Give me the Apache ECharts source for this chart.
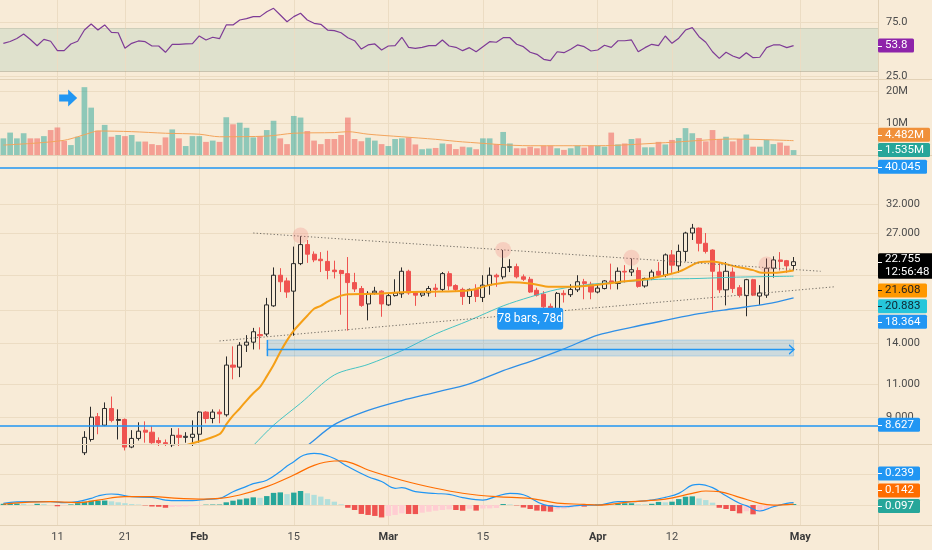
<!DOCTYPE html>
<html>
<head>
<meta charset="utf-8">
<script src="https://cdn.jsdelivr.net/npm/echarts@6.0.0/dist/echarts.min.js"></script>
<style>
html,body{margin:0;padding:0;background:#f8ebd7;overflow:hidden}
#chart{width:932px;height:550px}
</style>
</head>
<body>
<div id="chart"></div>
<script>
// ---------------- data ----------------
const monthLengths = [31, 28, 31, 30, 31];
const firstDay = 3;            // Jan 3
const numDays = 130;           // through May 12 (right margin)

const xTickDates  = ['01-11','01-21','02-01','02-15','03-01','03-15','04-01','04-12','05-01'];
const xTickLabels = ['11','21','Feb','15','Mar','15','Apr','12','May'];

const open = [
 7.0,7.2,7.3,7.45,7.5,7.25,7.0,7.2,7.1,6.9,
 6.85,7.1,7.3,7.9,9.05,8.6,9.5,8.85,8.9,7.55,
 7.95,8.35,8.25,7.85,7.75,7.65,8.1,8.0,8.0,8.15,
 9.3,8.95,9.3,9.15,12.3,12.15,13.85,14.1,14.75,14.8,
 17.5,21.0,20.3,19.1,22.5,25.2,23.8,23.1,22.8,21.65,
 21.6,21.2,20.1,19.4,17.7,18.9,19.1,17.6,18.6,18.8,
 21.5,18.9,18.65,18.9,19.45,19.3,21.2,19.75,19.3,18.5,
 19.3,18.4,19.8,21.0,20.8,22.0,22.1,20.8,20.5,19.2,
 18.75,17.45,17.05,18.85,18.7,19.25,20.2,19.9,19.0,19.4,
 20.3,20.0,21.5,21.4,21.6,19.7,20.6,21.5,21.0,23.7,
 22.2,24.2,27.0,27.8,25.4,24.4,21.4,19.25,21.4,19.5,
 18.6,20.45,18.55,18.65,21.9,23.0,22.9,22.25];
const close = [
 7.2,7.3,7.45,7.5,7.25,7.0,7.2,7.1,6.9,6.85,
 7.1,7.25,8.0,9.02,8.6,9.5,8.85,8.9,7.55,7.95,
 8.3,8.25,7.75,7.75,7.7,8.1,8.0,8.05,8.15,9.3,
 8.95,9.3,9.2,12.3,12.15,13.85,14.1,15.0,14.65,17.6,
 21.0,20.2,19.0,22.5,25.2,23.8,23.0,22.9,21.6,21.45,
 21.2,20.1,19.35,17.55,18.85,19.1,17.7,18.6,18.9,21.5,
 18.9,18.65,18.9,19.4,19.3,21.2,19.7,19.3,18.5,19.3,
 18.5,19.8,21.0,20.8,22.0,22.1,20.8,20.5,19.0,18.65,
 17.4,17.1,18.85,18.7,19.3,20.2,20.0,19.0,19.45,20.3,
 20.1,21.5,21.4,21.7,19.65,20.6,21.4,21.0,23.7,22.3,
 24.2,27.0,27.8,25.4,24.2,21.5,19.25,21.5,19.4,18.65,
 20.45,18.65,18.9,21.9,23.0,22.8,22.2,22.755];
const high = [
 7.3,7.4,7.6,7.6,7.55,7.35,7.3,7.3,7.2,7.05,
 7.2,7.3,8.3,9.6,9.25,9.85,10.2,9.45,8.95,8.35,
 8.75,8.8,8.55,8.0,7.9,8.45,8.45,8.25,8.85,9.35,
 9.35,9.45,9.45,12.95,13.75,14.1,14.7,15.35,15.4,18.35,
 22.0,21.9,20.7,24.9,26.5,25.9,24.2,24.1,24.3,22.9,
 21.7,23.4,21.3,19.7,19.1,19.6,19.2,18.9,20.5,22.0,
 21.7,19.0,19.1,19.7,19.95,21.4,21.5,19.9,19.5,19.4,
 19.9,21.0,22.0,21.2,24.4,23.1,22.5,21.1,20.8,19.5,
 19.1,17.75,19.0,19.2,19.9,21.0,20.55,20.2,19.9,20.4,
 22.5,22.0,22.3,23.2,22.0,20.7,21.7,22.7,23.9,24.4,
 25.2,27.2,28.5,27.9,27.0,24.5,22.7,22.7,22.0,19.8,
 20.55,20.55,19.8,23.2,23.5,24.1,23.0,23.4];
const low = [
 6.8,7.0,7.1,7.2,7.1,6.9,6.9,6.95,6.8,6.7,
 6.8,7.0,7.2,7.8,8.15,8.55,8.75,7.9,7.4,7.5,
 7.85,7.75,7.7,7.6,7.6,7.55,7.6,7.75,7.6,7.75,
 8.7,8.7,8.7,9.05,11.3,11.45,13.3,13.5,13.5,14.6,
 17.4,19.0,18.35,14.65,22.3,22.6,22.7,21.4,20.5,20.6,
 16.6,15.1,19.0,17.4,16.05,18.7,16.4,17.5,18.5,18.35,
 18.7,17.5,18.45,18.5,18.45,19.0,19.2,19.1,17.6,17.7,
 17.9,17.9,18.7,19.6,20.5,21.4,20.6,20.3,18.9,18.5,
 17.05,17.0,16.9,17.85,18.45,19.0,18.2,18.2,18.85,19.3,
 19.3,19.3,20.1,20.9,19.5,19.5,20.4,20.9,20.75,21.3,
 21.3,22.8,25.9,24.2,23.9,17.05,18.9,17.55,18.9,18.4,
 16.45,18.55,17.6,18.35,20.7,21.6,21.3,21.6];
// volume in millions
const volume = [
 5.2,7.0,5.2,6.8,5.2,5.2,5.9,7.8,8.6,4.4,
 3.1,5.7,21.2,14.8,7.6,9.4,5.7,6.25,5.9,6.25,
 4.2,4.2,3.4,3.1,5.5,8.0,5.2,2.8,5.9,5.9,
 4.1,4.5,4.1,11.8,9.6,10.1,8.5,5.5,5.9,7.8,
 10.7,5.2,3.4,12.2,11.7,7.5,4.5,3.4,5.0,5.0,
 6.25,11.7,5.0,4.3,5.4,4.5,3.4,2.8,5.0,5.2,
 5.5,3.3,1.8,2.0,2.2,3.6,3.4,1.85,2.6,2.4,
 1.8,5.2,5.2,3.4,7.2,3.6,2.1,2.1,2.6,2.1,
 2.9,2.9,2.1,1.6,2.1,2.9,2.3,2.95,2.9,2.6,
 7.0,3.3,3.6,5.0,5.2,2.4,2.4,4.1,3.3,4.7,
 5.3,8.4,6.8,5.3,4.25,7.8,5.0,5.7,4.25,5.0,
 6.4,2.6,2.6,4.7,3.4,3.9,2.9,1.535];
const rsi = [
 55.9,57.6,60.4,64.5,59.4,53.7,59.6,57.8,49.1,49.1,
 55.3,57.8,68.2,73.8,68.2,72.9,66.1,65.7,51.3,55.9,
 58.1,57.4,53.4,53.4,47.6,55.0,55.0,55.3,55.6,62.7,
 59.0,61.5,60.2,72.9,72.9,77.5,78.7,80.6,80.6,85.2,
 88.3,82.1,75.9,80.6,83.7,77.5,74.4,73.5,68.2,67.6,
 65.7,61.1,58.3,50.6,54.4,55.3,49.7,53.4,53.7,61.5,
 52.2,51.3,52.2,53.7,53.7,59.0,53.4,52.2,49.1,51.9,
 48.1,52.8,57.4,56.9,61.1,61.1,55.0,52.8,47.6,45.7,
 41.1,39.8,48.1,47.2,50.4,54.4,52.8,48.8,49.7,54.1,
 52.2,58.3,58.3,59.0,48.1,51.9,55.0,53.7,62.7,55.9,
 60.6,68.2,70.4,62.0,56.9,48.1,42.0,47.6,44.2,42.0,
 47.2,42.6,43.0,51.9,54.4,54.4,51.9,53.8];
const macdHist = [
 0.01,0.012,0.012,0.01,0.002,0.01,0.008,0.0,-0.01,-0.003,
 0.005,0.015,0.027,0.035,0.035,0.036,0.03,0.022,0.015,0.008,
 0.004,-0.003,-0.012,-0.014,-0.022,-0.015,-0.013,-0.011,-0.009,-0.005,
 0.003,0.004,0.004,0.022,0.035,0.045,0.053,0.062,0.058,0.072,
 0.098,0.102,0.088,0.10,0.113,0.095,0.082,0.068,0.048,0.027,
 0.006,-0.022,-0.04,-0.072,-0.08,-0.088,-0.1,-0.088,-0.08,-0.067,
 -0.072,-0.073,-0.062,-0.054,-0.046,-0.04,-0.035,-0.04,-0.046,-0.03,
 -0.045,-0.028,-0.027,-0.024,0.008,0.005,-0.003,-0.02,-0.032,-0.045,
 -0.05,-0.054,-0.035,-0.03,-0.02,-0.013,-0.013,-0.005,0.005,0.006,
 0.004,0.013,0.014,0.014,0.006,0.005,0.01,0.025,0.022,0.027,
 0.048,0.067,0.07,0.053,0.04,0.019,-0.022,-0.032,-0.048,-0.067,
 -0.05,-0.075,-0.054,-0.035,-0.018,0.0,0.006,0.008];
// [day index, value] points
const macdLine = [[0,0.014],[2,0.025],[4,0.027],[7,0.027],[9,0.019],[11,0.027],[13,0.054],[14,0.073],[16,0.089],[17,0.086],[19,0.067],[22,0.062],[24,0.04],[26,0.035],[28,0.035],[30,0.046],[32,0.054],[34,0.107],[36,0.15],[37,0.172],[39,0.2],[41,0.27],[42,0.315],[43,0.349],[44,0.39],[45,0.41],[46,0.417],[47,0.412],[49,0.375],[51,0.31],[54,0.228],[56,0.19],[58,0.135],[59,0.14],[61,0.108],[64,0.093],[66,0.086],[68,0.06],[71,0.04],[73,0.07],[75,0.094],[77,0.083],[80,0.003],[83,-0.014],[86,0],[88,0],[91,0.027],[93,0.027],[96,0.04],[98,0.062],[100,0.094],[102,0.16],[103,0.167],[105,0.14],[107,0.075],[109,0.014],[110,-0.005],[112,-0.048],[114,-0.014],[116,0.014],[117,0.019]];
const signalLine = [[0,0.008],[7,0.027],[11,0.019],[14,0.04],[18,0.067],[22,0.067],[26,0.054],[29,0.048],[32,0.054],[35,0.081],[39,0.148],[43,0.242],[46,0.32],[49,0.355],[50,0.356],[52,0.33],[54,0.282],[59,0.2],[64,0.135],[68,0.095],[73,0.067],[78,0.054],[82,0.016],[86,0.006],[88,0],[93,0.027],[98,0.048],[102,0.094],[104,0.113],[106,0.108],[109,0.062],[112,0.014],[114,0.0],[117,0.008]];
const maFast = [[24,7.3],[27,7.62],[32,8.16],[33,8.64],[34,9.1],[35,9.5],[36,9.96],[37,10.4],[38,10.8],[39,11.5],[40,12.3],[41,13.3],[42,14.25],[43,15.1],[44,15.8],[45,16.5],[46,17.2],[47,17.5],[48,17.95],[49,18.3],[50,18.6],[51,18.75],[55,18.8],[60,19.0],[65,19.05],[69,19.2],[72,19.8],[75,20.15],[78,20.0],[81,19.6],[84,19.6],[87,19.75],[91,20.15],[95,20.5],[98,21.0],[100,21.45],[102,22.3],[103,22.7],[105,22.8],[108,22.2],[111,21.65],[112,21.35],[114,21.3],[117,21.608]];
const maMid = [[33,6.5],[37,7.62],[40,8.6],[44,9.8],[49,11.6],[54,12.35],[59,13.4],[64,14.8],[69,16.05],[74,17.5],[78,18.45],[82,19.3],[87,19.9],[92,20.2],[97,20.5],[103,20.6],[108,20.75],[117,20.883]];
const maSlow = [[41,6.8],[45,7.62],[49,8.63],[54,9.39],[59,9.96],[64,10.46],[69,11.0],[74,11.9],[79,12.75],[83,13.55],[88,14.7],[93,15.4],[98,16.05],[103,16.7],[108,17.2],[113,17.7],[117,18.364]];
const volMa = [[0,3.1],[5,3.75],[9,4.6],[11,5.7],[13,7.0],[14,7.5],[19,7.3],[24,6.8],[29,6.5],[32,5.7],[39,5.9],[43,6.8],[49,7.0],[51,7.3],[54,6.5],[59,5.7],[64,4.9],[68,4.1],[78,2.9],[88,2.9],[98,3.85],[108,5.0],[117,4.482]];

const priceTicks = [9, 11, 14, 17, 21, 27, 32];
const volTicks = [10, 20];
const rsiTicks = [25, 75];
const macdTicks = [0, 0.25];
const hLevels = [40.045, 8.627];
const trendUpper = [['02-09', 27.0], ['05-04', 21.5]];
const trendLower = [['02-04', 14.2], ['05-06', 19.6]];
const measureStart = '02-11', measureEnd = '04-30';
const measureTop = 14.28, measureBottom = 12.98, measureMid = 13.5;
const measureText = '78 bars, 78d';
const measureLabelAt = ['03-22', 16.2];
const highlightHighs = [['02-16', 26.6], ['03-18', 24.4], ['04-06', 23.3], ['04-26', 22.4]];
const arrowAt = ['01-12', 17.8];
const lastClose = 22.755, countdown = '12:56:48';
const maFastLast = 21.608, maMidLast = 20.883, maSlowLast = 18.364;
const volLast = 1.535, volMaLast = 4.482;
const rsiLast = 53.8;
const macdTags = [0.239, 0.142, 0.097];

// ---------------- build ----------------
const categories = [];
(function () {
  let m = 0, d = firstDay;
  for (let k = 0; k < numDays; k++) {
    categories.push(String(m + 1).padStart(2, '0') + '-' + String(d).padStart(2, '0'));
    d++; if (d > monthLengths[m]) { d = 1; m++; }
  }
})();
const pts = arr => arr.map(p => [categories[p[0]], p[1]]);

const BG = '#f8ebd7';
const GRID_C = '#ecdcc3';
const LEVEL_BLUE = '#2196f3';
const FONT = 'Roboto, "Liberation Sans", sans-serif';
const UP_VOL = 'rgba(38,166,154,0.5)', DN_VOL = 'rgba(239,83,80,0.5)';

const candleData = open.map((o, i) => [o, close[i], low[i], high[i]]);
const volData = volume.map((v, i) => ({ value: v, itemStyle: { color: close[i] >= open[i] ? UP_VOL : DN_VOL } }));
const histData = macdHist.map((v, i) => {
  const p = i > 0 ? macdHist[i - 1] : 0;
  let c;
  if (v >= 0) c = v >= p ? '#26a69a' : '#b2dfdb';
  else c = v <= p ? '#ef5350' : '#ffcdd2';
  return { value: v, itemStyle: { color: c } };
});

function guide(values, fmt, extra) {
  const vLines = xTickDates.map(d => ({ xAxis: d, label: { show: false } }));
  return {
    silent: true, symbol: ['none', 'none'], z: 1, animation: false, precision: 4,
    lineStyle: { color: GRID_C, width: 1, type: 'solid' },
    label: { show: !!fmt, position: 'end', distance: 8, color: '#4b4b4b', fontSize: 11, fontFamily: FONT,
      formatter: fmt ? (p => fmt(p.value)) : '' },
    data: values.map(v => ({ yAxis: v })).concat(vLines).concat(extra || [])
  };
}

const xAx = (gi, showLabel) => ({
  type: 'category', gridIndex: gi, data: categories, boundaryGap: true,
  axisLine: { show: false }, axisTick: { show: false }, splitLine: { show: false },
  axisLabel: showLabel ? {
    show: true,
    interval: (i, v) => xTickDates.indexOf(v) >= 0,
    formatter: v => {
      const k = xTickDates.indexOf(v);
      const t = k >= 0 ? xTickLabels[k] : '';
      return /^[A-Za-z]/.test(t) ? '{m|' + t + '}' : t;
    },
    color: '#4b4b4b', fontSize: 11, fontFamily: FONT, margin: 7,
    rich: { m: { fontWeight: 'bold', color: '#3a3a3a', fontSize: 11, fontFamily: FONT } }
  } : { show: false }
});
const yAx = (gi, extra) => Object.assign({
  type: 'value', gridIndex: gi, position: 'right',
  axisLine: { show: false }, axisTick: { show: false }, axisLabel: { show: false }, splitLine: { show: false }
}, extra);

const option = {
  animation: false,
  backgroundColor: BG,
  textStyle: { fontFamily: FONT },
  grid: [
    { left: 0, right: 54, top: 0, height: 79 },
    { left: 0, right: 54, top: 80, height: 75 },
    { left: 0, right: 54, top: 156, height: 288 },
    { left: 0, right: 54, top: 444, height: 81 }
  ],
  xAxis: [xAx(0, false), xAx(1, false), xAx(2, false), xAx(3, true)],
  yAxis: [
    yAx(0, { min: 22.87, max: 96 }),
    yAx(1, { min: 0, max: 23.44 }),
    yAx(2, { type: 'log', logBase: 10, min: 7.69, max: 42.7 }),
    yAx(3, { min: -0.161, max: 0.492 })
  ],
  series: [
    // RSI
    { type: 'line', xAxisIndex: 0, yAxisIndex: 0, data: rsi, symbol: 'none', z: 3,
      lineStyle: { color: '#7e3b96', width: 1.2 },
      markArea: { silent: true, z: 1, itemStyle: { color: 'rgba(80,170,150,0.15)' }, data: [[{ yAxis: 30 }, { yAxis: 70 }]] },
      markLine: guide(rsiTicks, v => v.toFixed(1), [
        { yAxis: 70, label: { show: false }, lineStyle: { color: 'rgba(150,150,130,0.25)' } },
        { yAxis: 30, label: { show: false }, lineStyle: { color: 'rgba(150,150,130,0.45)' } }
      ]) },
    // Volume
    { type: 'bar', xAxisIndex: 1, yAxisIndex: 1, data: volData, barCategoryGap: '16%',
      markLine: guide(volTicks, v => v + 'M'),
      markPoint: { silent: true, label: { show: false },
        data: [{ coord: arrowAt, symbol: 'path://M0,5 L9,5 L9,0 L18,8.5 L9,17 L9,12 L0,12 Z', symbolSize: [18, 17], symbolOffset: [4, 0], itemStyle: { color: '#2196f3' } }] } },
    { type: 'line', xAxisIndex: 1, yAxisIndex: 1, data: pts(volMa), symbol: 'none', smooth: 0.3, z: 3,
      lineStyle: { color: '#f3a45c', width: 1 } },
    // Price
    { type: 'candlestick', xAxisIndex: 2, yAxisIndex: 2, data: candleData, barWidth: '68%', z: 2,
      itemStyle: { color: 'transparent', color0: '#ef5350', borderColor: '#2b2b2b', borderColor0: '#ef5350', borderWidth: 1 },
      markLine: guide(priceTicks, v => Number(v).toFixed(3)),
      markPoint: { silent: true, label: { show: false },
        data: highlightHighs.map(c => ({ coord: c, symbol: 'circle', symbolSize: 16, itemStyle: { color: 'rgba(240,110,110,0.22)' } })) } },
    { type: 'line', xAxisIndex: 2, yAxisIndex: 2, data: pts(maSlow), symbol: 'none', smooth: 0.3, z: 3,
      lineStyle: { color: '#2f8fe6', width: 1.3 } },
    { type: 'line', xAxisIndex: 2, yAxisIndex: 2, data: pts(maMid), symbol: 'none', smooth: 0.3, z: 3,
      lineStyle: { color: '#46c3c3', width: 1 } },
    { type: 'line', xAxisIndex: 2, yAxisIndex: 2, data: pts(maFast), symbol: 'none', smooth: 0.3, z: 4,
      lineStyle: { color: '#f59f16', width: 2 } },
    { type: 'line', xAxisIndex: 2, yAxisIndex: 2, data: trendUpper, symbol: 'none', z: 4,
      lineStyle: { color: '#6f6a62', width: 1, type: [1.2, 2.2] } },
    { type: 'line', xAxisIndex: 2, yAxisIndex: 2, data: trendLower, symbol: 'none', z: 4,
      lineStyle: { color: '#6f6a62', width: 1, type: [1.2, 2.2] } },
    { type: 'line', xAxisIndex: 2, yAxisIndex: 2, data: [[measureStart, measureMid], [measureEnd, measureMid]], symbol: 'none', z: 5,
      lineStyle: { color: '#2196f3', width: 1.5 },
      markArea: { silent: true, z: 4, itemStyle: { color: 'rgba(33,150,243,0.2)', borderColor: 'rgba(33,150,243,0.25)', borderWidth: 1 },
        data: [[{ coord: [measureStart, measureTop] }, { coord: [measureEnd, measureBottom] }]] },
      markLine: { silent: true, symbol: ['none', 'none'], z: 5, label: { show: false },
        lineStyle: { color: '#2196f3', width: 1.3, type: 'solid' },
        data: [[{ coord: [measureStart, measureTop] }, { coord: [measureStart, measureBottom] }]] },
      markPoint: { silent: true, z: 6, data: [
        { coord: [measureEnd, measureMid], symbol: 'path://M0,0 L6,5 L0,10', symbolSize: [5, 9], symbolOffset: [-2, 0],
          itemStyle: { color: 'transparent', borderColor: '#2196f3', borderWidth: 1.2 }, label: { show: false } },
        { coord: measureLabelAt, symbol: 'path://M3,0 L63,0 Q66,0 66,3 L66,19 Q66,22 63,22 L3,22 Q0,22 0,19 L0,3 Q0,0 3,0 Z',
          symbolSize: [66, 22], symbolKeepAspect: false, itemStyle: { color: '#2196f3' },
          label: { show: true, position: 'inside', formatter: measureText, color: '#ffffff', fontSize: 12, fontFamily: FONT } }
      ] } },
    // MACD
    { type: 'bar', xAxisIndex: 3, yAxisIndex: 3, data: histData, barCategoryGap: '20%',
      markLine: guide(macdTicks, null) },
    { type: 'line', xAxisIndex: 3, yAxisIndex: 3, data: pts(macdLine), symbol: 'none', smooth: 0.4, z: 3,
      lineStyle: { color: '#2196f3', width: 1.2 } },
    { type: 'line', xAxisIndex: 3, yAxisIndex: 3, data: pts(signalLine), symbol: 'none', smooth: 0.4, z: 3,
      lineStyle: { color: '#ff6d00', width: 1.2 } }
  ]
};

const chart = echarts.init(document.getElementById('chart'));
chart.setOption(option);

// ---------------- overlays placed through the axes' own scales ----------------
const tagDefs = [
  { axis: 0, value: rsiLast, lines: [rsiLast.toFixed(1)], bg: '#8e24aa', fg: '#ffffff', dy: 0 },
  { axis: 1, value: volMaLast, lines: [volMaLast.toFixed(3) + 'M'], bg: '#f0903a', fg: '#ffffff', dy: -6 },
  { axis: 1, value: volLast, lines: [volLast.toFixed(3) + 'M'], bg: '#26a69a', fg: '#ffffff', dy: 0 },
  { axis: 2, value: hLevels[0], lines: [hLevels[0].toFixed(3)], bg: '#2196f3', fg: '#ffffff', dy: 0 },
  { axis: 2, value: lastClose, lines: [lastClose.toFixed(3), countdown], bg: '#000000', fg: '#ffffff', dy: 0 },
  { axis: 2, value: maFastLast, lines: [maFastLast.toFixed(3)], bg: '#ff9800', fg: '#1f1f1f', dy: 20 },
  { axis: 2, value: maMidLast, lines: [maMidLast.toFixed(3)], bg: '#26c6da', fg: '#0f2530', dy: 30 },
  { axis: 2, value: maSlowLast, lines: [maSlowLast.toFixed(3)], bg: '#2196f3', fg: '#ffffff', dy: 24 },
  { axis: 2, value: hLevels[1], lines: [hLevels[1].toFixed(3)], bg: '#2196f3', fg: '#ffffff', dy: 0 },
  { axis: 3, value: macdTags[0], lines: [macdTags[0].toFixed(3)], bg: '#2196f3', fg: '#ffffff', dy: -2 },
  { axis: 3, value: macdTags[1], lines: [macdTags[1].toFixed(3)], bg: '#ff6d00', fg: '#ffffff', dy: 3 },
  { axis: 3, value: macdTags[2], lines: [macdTags[2].toFixed(3)], bg: '#26a69a', fg: '#ffffff', dy: 13 }
];
const TAG_FONT = '11.5px ' + FONT;
const ctx = document.createElement('canvas').getContext('2d');
ctx.font = TAG_FONT;
const X0 = 878;
const els = [];
// pane separators and price-scale border
[79.5, 155.5, 444.5, 525.5].forEach(y => els.push({ type: 'line', z: 50, silent: true,
  shape: { x1: 0, y1: y, x2: 932, y2: y }, style: { stroke: '#e2d1b6', lineWidth: 1 } }));
els.push({ type: 'line', z: 50, silent: true, shape: { x1: X0 + 0.5, y1: 0, x2: X0 + 0.5, y2: 550 }, style: { stroke: '#e2d1b6', lineWidth: 1 } });
els.push({ type: 'rect', z: 49, silent: true, shape: { x: X0 + 1, y: 80, width: 54, height: 4 }, style: { fill: BG } });
// horizontal price levels
hLevels.forEach(v => {
  const y = Math.round(chart.convertToPixel({ yAxisIndex: 2 }, v)) + 1;
  els.push({ type: 'line', z: 40, silent: true, shape: { x1: 0, y1: y, x2: X0, y2: y }, style: { stroke: LEVEL_BLUE, lineWidth: 1.6 } });
});

tagDefs.forEach(t => {
  const yv = chart.convertToPixel({ yAxisIndex: t.axis }, t.value) + t.dy;
  const w = Math.ceil(Math.max.apply(null, t.lines.map(s => ctx.measureText(s).width))) + 13;
  const two = t.lines.length > 1;
  const top = two ? yv - 8.5 : yv - 7;
  const h = two ? 25.5 : 14;
  els.push({ type: 'rect', z: 100, silent: true, shape: { x: X0, y: top, width: w, height: h, r: 1.5 }, style: { fill: t.bg },
    textContent: { z: 101, style: { text: t.lines.join('\n'), fill: t.fg, font: TAG_FONT, lineHeight: 13 } },
    textConfig: { position: 'insideLeft', distance: 7 } });
  els.push({ type: 'line', z: 102, silent: true, shape: { x1: X0, y1: Math.round(yv) + 0.5, x2: X0 + 4, y2: Math.round(yv) + 0.5 },
    style: { stroke: t.fg, lineWidth: 1 } });
});
chart.setOption({ graphic: { elements: els } });
</script>
</body>
</html>
